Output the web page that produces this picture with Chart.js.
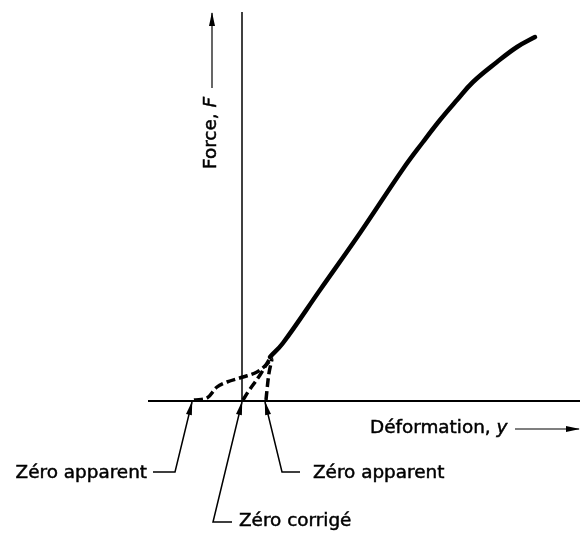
<!DOCTYPE html>
<html>
<head>
<meta charset="utf-8">
<script src="https://cdn.jsdelivr.net/npm/chart.js@4"></script>
<style>
  html, body { margin: 0; padding: 0; background: #fff; overflow: hidden; }
  #graficas { width: 580px; height: 533px; }
</style>
</head>
<body>
<div id="graficas"><canvas id="FORCE"></canvas></div>
<script>
// courbe force / deformation (unites arbitraires, origine = zero corrige)
const deformation = [1.4, 2.05, 3.9, 5.9, 8.05, 9.05, 9.9, 10.75, 11.55, 12.75, 13.75, 14.65];
const force = [2.2, 2.9, 5.55, 8.4, 11.6, 12.95, 14.05, 15.05, 15.95, 16.95, 17.7, 18.2];

// raccords en pointilles vers les zeros
const raccordGaucheX = [-2.4, -1.75, -1.25, -0.75, 0.05, 0.75, 1.3, 1.5];
const raccordGaucheY = [0.05, 0.15, 0.7, 0.95, 1.2, 1.45, 1.9, 2.2];
const raccordCorrigeX = [0.05, 0.3, 0.9, 1.4];
const raccordCorrigeY = [0.05, 0.45, 1.3, 2.15];
const raccordDroitX = [1.2, 1.25, 1.35, 1.5];
const raccordDroitY = [0.05, 0.55, 1.4, 2.1];

const etiquettes = ['Zéro apparent', 'Zéro corrigé', 'Zéro apparent'];
const titreX = ['Déformation, ', 'y'];
const titreY = ['Force, ', 'F'];

// reperes (lignes de rappel, axes)
const rappels = [
  [[-4.45, -3.55], [-3.35, -3.55], [-2.5, -0.05]],
  [[-0.5, -6.05], [-1.45, -6.05], [0, -0.05]],
  [[2.9, -3.55], [2.0, -3.55], [1.15, -0.05]]
];

function pts(xs, ys) {
  return xs.map((x, i) => ({x: x, y: ys[i]}));
}
function seg(arr) {
  return arr.map(p => ({x: p[0], y: p[1]}));
}

const fonte = '"DejaVu Sans", sans-serif';
const taille = 18.4;

const datasets = [
  { data: [{x: -4.7, y: 0}, {x: 16.9, y: 0}], borderWidth: 2 },
  { data: [{x: 0, y: 0}, {x: 0, y: 19.45}], borderWidth: 1.5 },
  { data: pts(deformation, force), borderWidth: 4.5, tension: 0.4, borderCapStyle: 'round', borderJoinStyle: 'round' },
  { data: pts(raccordGaucheX, raccordGaucheY), borderWidth: 3.5, tension: 0.35, borderDash: [9, 4] },
  { data: pts(raccordCorrigeX, raccordCorrigeY), borderWidth: 3.5, tension: 0.35, borderDash: [9, 4] },
  { data: pts(raccordDroitX, raccordDroitY), borderWidth: 3.5, tension: 0.35, borderDash: [9, 4] },
  { data: [{x: 13.65, y: -1.4}, {x: 16.85, y: -1.4}], borderWidth: 1.2, fleche: true },
  { data: [{x: -1.5, y: 15.65}, {x: -1.5, y: 19.4}], borderWidth: 1.2, fleche: true }
];
rappels.forEach(r => datasets.push({ data: seg(r), borderWidth: 1.5, tension: 0, fleche: true }));
datasets.forEach(d => {
  d.borderColor = '#000';
  d.pointRadius = 0;
  d.showLine = true;
  d.fill = false;
  if (d.tension === undefined) d.tension = 0;
});

// pointes de fleches au bout des lignes
const pointes = {
  id: 'pointes',
  afterDatasetsDraw(chart) {
    const ctx = chart.ctx;
    chart.data.datasets.forEach((d, i) => {
      if (!d.fleche) return;
      const pts = chart.getDatasetMeta(i).data;
      const a = pts[pts.length - 2], b = pts[pts.length - 1];
      const ang = Math.atan2(b.y - a.y, b.x - a.x);
      ctx.save();
      ctx.translate(b.x, b.y);
      ctx.rotate(ang);
      ctx.beginPath();
      ctx.moveTo(1, 0);
      ctx.lineTo(-13, -3);
      ctx.lineTo(-13, 3);
      ctx.closePath();
      ctx.fillStyle = '#000';
      ctx.fill();
      ctx.restore();
    });
  }
};

// texte un peu epaissi pour ressembler au lettrage technique
function ecrire(ctx, s, x, y) {
  ctx.fillText(s, x, y);
  ctx.strokeText(s, x, y);
}

function texteMixte(ctx, morceaux, x, y, align) {
  ctx.font = taille + 'px ' + fonte;
  const w0 = ctx.measureText(morceaux[0]).width;
  ctx.font = 'italic ' + taille + 'px ' + fonte;
  const w1 = ctx.measureText(morceaux[1]).width;
  let x0 = x;
  if (align === 'center') x0 = x - (w0 + w1) / 2;
  ctx.textAlign = 'left';
  ctx.font = taille + 'px ' + fonte;
  ecrire(ctx, morceaux[0], x0, y);
  ctx.font = 'italic ' + taille + 'px ' + fonte;
  ecrire(ctx, morceaux[1], x0 + w0, y);
}

const textes = {
  id: 'textes',
  afterDraw(chart) {
    const ctx = chart.ctx;
    const sx = chart.scales.x, sy = chart.scales.y;
    ctx.save();
    ctx.fillStyle = '#000';
    ctx.strokeStyle = '#000';
    ctx.lineWidth = 0.5;
    ctx.textBaseline = 'middle';
    ctx.font = taille + 'px ' + fonte;
    ctx.textAlign = 'right';
    ecrire(ctx, etiquettes[0], sx.getPixelForValue(-4.75), sy.getPixelForValue(-3.6));
    ctx.textAlign = 'left';
    ecrire(ctx, etiquettes[1], sx.getPixelForValue(-0.15), sy.getPixelForValue(-6.0));
    ecrire(ctx, etiquettes[2], sx.getPixelForValue(3.55), sy.getPixelForValue(-3.6));
    texteMixte(ctx, titreX, sx.getPixelForValue(6.4), sy.getPixelForValue(-1.35), 'left');
    ctx.save();
    ctx.translate(sx.getPixelForValue(-1.55), sy.getPixelForValue(13.4));
    ctx.rotate(-Math.PI / 2);
    texteMixte(ctx, titreY, 0, 0, 'center');
    ctx.restore();
    ctx.restore();
  }
};

var grafico = new Chart(document.getElementById('FORCE'), {
  type: 'scatter',
  data: { datasets: datasets },
  options: {
    responsive: true,
    maintainAspectRatio: false,
    animation: false,
    layout: { padding: 0 },
    plugins: { legend: { display: false }, tooltip: { enabled: false } },
    scales: {
      x: { type: 'linear', display: false, min: -12.1, max: 16.9 },
      y: { type: 'linear', display: false, min: -6.6, max: 20.05 }
    }
  },
  plugins: [pointes, textes]
});
</script>
</body>
</html>
